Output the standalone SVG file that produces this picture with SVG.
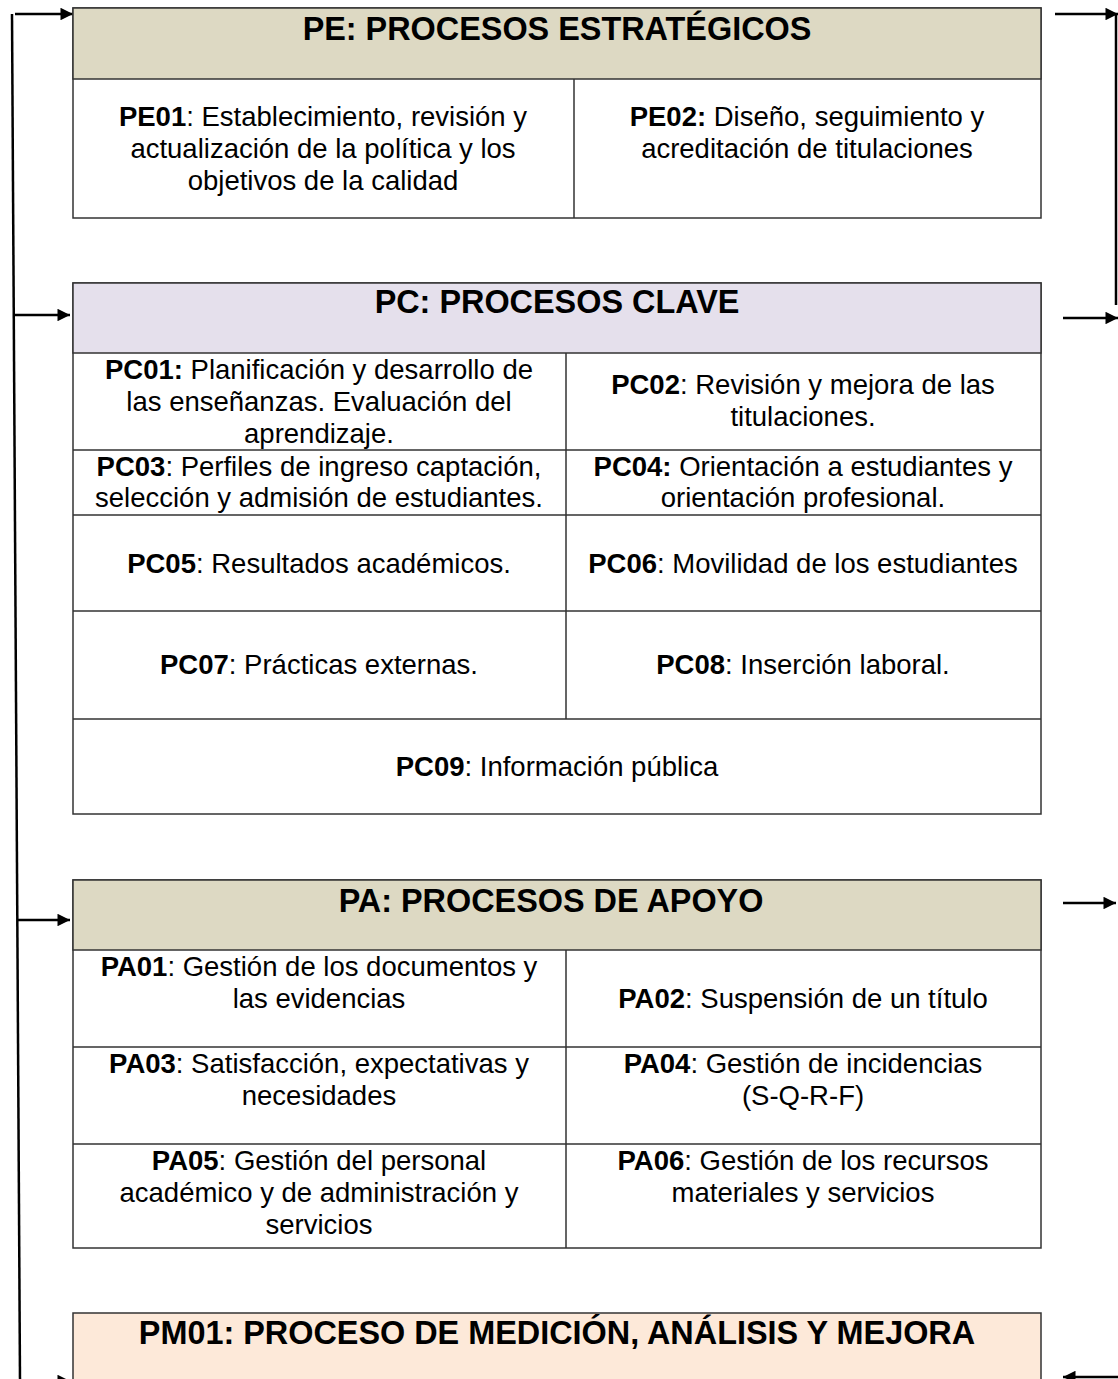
<svg xmlns="http://www.w3.org/2000/svg" width="1118" height="1379" viewBox="0 0 1118 1379">
<defs>
<marker id="ah" viewBox="0 0 10 10" refX="10" refY="5" markerWidth="5.5" markerHeight="5" orient="auto" markerUnits="strokeWidth">
<path d="M0,0 L10,5 L0,10 z" fill="#000"/>
</marker>
<style>
.box{fill:#fff;stroke:#333;stroke-width:1.5}
.div{stroke:#333;stroke-width:1.5;fill:none}
.t{font-family:"Liberation Sans",Arial,sans-serif;font-size:27.5px;fill:#000;text-anchor:middle}
.h{font-family:"Liberation Sans",Arial,sans-serif;font-size:32.4px;font-weight:bold;fill:#000;text-anchor:middle}
.b{font-weight:bold}
.c{stroke:#000;stroke-width:2.5;fill:none}
.cm{stroke:#000;stroke-width:2.5;fill:none;marker-end:url(#ah)}
</style>
</defs>
<rect width="1118" height="1379" fill="#fff"/>

<g id="connectors">
<path class="c" d="M12,14 L20,1380"/>
<path class="cm" d="M15,14 L73,14"/>
<path class="cm" d="M15,315 L70,315"/>
<path class="cm" d="M17,920 L70,920"/>
<path class="cm" d="M20,1381 L70,1381"/>
<path class="c" d="M1116,14 L1116,305"/>
<path class="cm" d="M1055,14 L1118,14"/>
<path class="cm" d="M1063,318 L1118,318"/>
<path class="cm" d="M1063,903 L1116,903"/>
<path class="cm" d="M1118,1377 L1063,1377"/>
</g>

<g id="PE">
<rect class="box" x="73" y="8" width="968" height="210"/>
<rect x="73" y="8" width="968" height="71" fill="#DDD9C3" stroke="#333" stroke-width="1.5"/>
<text class="h" x="557" y="40">PE: PROCESOS ESTRATÉGICOS</text>
<path class="div" d="M574,79 L574,218"/>
<g id="PE01">
<text class="t" x="323" y="126"><tspan class="b">PE01</tspan>: Establecimiento, revisión y</text>
<text class="t" x="323" y="158">actualización de la política y los</text>
<text class="t" x="323" y="190">objetivos de la calidad</text>
</g>
<g id="PE02">
<text class="t" x="807" y="126"><tspan class="b">PE02:</tspan> Diseño, seguimiento y</text>
<text class="t" x="807" y="158">acreditación de titulaciones</text>
</g>
</g>

<g id="PC">
<rect class="box" x="73" y="283" width="968" height="531"/>
<rect x="73" y="283" width="968" height="70" fill="#E5E0EC" stroke="#333" stroke-width="1.5"/>
<text class="h" x="557" y="313">PC: PROCESOS CLAVE</text>
<path class="div" d="M566,353 L566,719 M73,450 L1041,450 M73,515 L1041,515 M73,611 L1041,611 M73,719 L1041,719"/>
<g id="PC01">
<text class="t" x="319" y="379"><tspan class="b">PC01:</tspan> Planificación y desarrollo de</text>
<text class="t" x="319" y="411">las enseñanzas. Evaluación del</text>
<text class="t" x="319" y="443">aprendizaje.</text>
</g>
<g id="PC02">
<text class="t" x="803" y="394"><tspan class="b">PC02</tspan>: Revisión y mejora de las</text>
<text class="t" x="803" y="426">titulaciones.</text>
</g>
<g id="PC03">
<text class="t" x="319" y="476"><tspan class="b">PC03</tspan>: Perfiles de ingreso captación,</text>
<text class="t" x="319" y="507">selección y admisión de estudiantes.</text>
</g>
<g id="PC04">
<text class="t" x="803" y="476"><tspan class="b">PC04:</tspan> Orientación a estudiantes y</text>
<text class="t" x="803" y="507">orientación profesional.</text>
</g>
<g id="PC05"><text class="t" x="319" y="573"><tspan class="b">PC05</tspan>: Resultados académicos.</text></g>
<g id="PC06"><text class="t" x="803" y="573"><tspan class="b">PC06</tspan>: Movilidad de los estudiantes</text></g>
<g id="PC07"><text class="t" x="319" y="674"><tspan class="b">PC07</tspan>: Prácticas externas.</text></g>
<g id="PC08"><text class="t" x="803" y="674"><tspan class="b">PC08</tspan>: Inserción laboral.</text></g>
<g id="PC09"><text class="t" x="557" y="776"><tspan class="b">PC09</tspan>: Información pública</text></g>
</g>

<g id="PA">
<rect class="box" x="73" y="880" width="968" height="368"/>
<rect x="73" y="880" width="968" height="70" fill="#DDD9C3" stroke="#333" stroke-width="1.5"/>
<text class="h" x="551" y="912">PA: PROCESOS DE APOYO</text>
<path class="div" d="M566,950 L566,1248 M73,1047 L1041,1047 M73,1144 L1041,1144"/>
<g id="PA01">
<text class="t" x="319" y="976"><tspan class="b">PA01</tspan>: Gestión de los documentos y</text>
<text class="t" x="319" y="1008">las evidencias</text>
</g>
<g id="PA02"><text class="t" x="803" y="1008"><tspan class="b">PA02</tspan>: Suspensión de un título</text></g>
<g id="PA03">
<text class="t" x="319" y="1073"><tspan class="b">PA03</tspan>: Satisfacción, expectativas y</text>
<text class="t" x="319" y="1105">necesidades</text>
</g>
<g id="PA04">
<text class="t" x="803" y="1073"><tspan class="b">PA04</tspan>: Gestión de incidencias</text>
<text class="t" x="803" y="1105">(S-Q-R-F)</text>
</g>
<g id="PA05">
<text class="t" x="319" y="1170"><tspan class="b">PA05</tspan>: Gestión del personal</text>
<text class="t" x="319" y="1202">académico y de administración y</text>
<text class="t" x="319" y="1234">servicios</text>
</g>
<g id="PA06">
<text class="t" x="803" y="1170"><tspan class="b">PA06</tspan>: Gestión de los recursos</text>
<text class="t" x="803" y="1202">materiales y servicios</text>
</g>
</g>

<g id="PM">
<rect x="73" y="1313" width="968" height="80" fill="#FDE9D9" stroke="#333" stroke-width="1.5"/>
<text class="h" x="557" y="1344">PM01: PROCESO DE MEDICIÓN, ANÁLISIS Y MEJORA</text>
</g>
</svg>
